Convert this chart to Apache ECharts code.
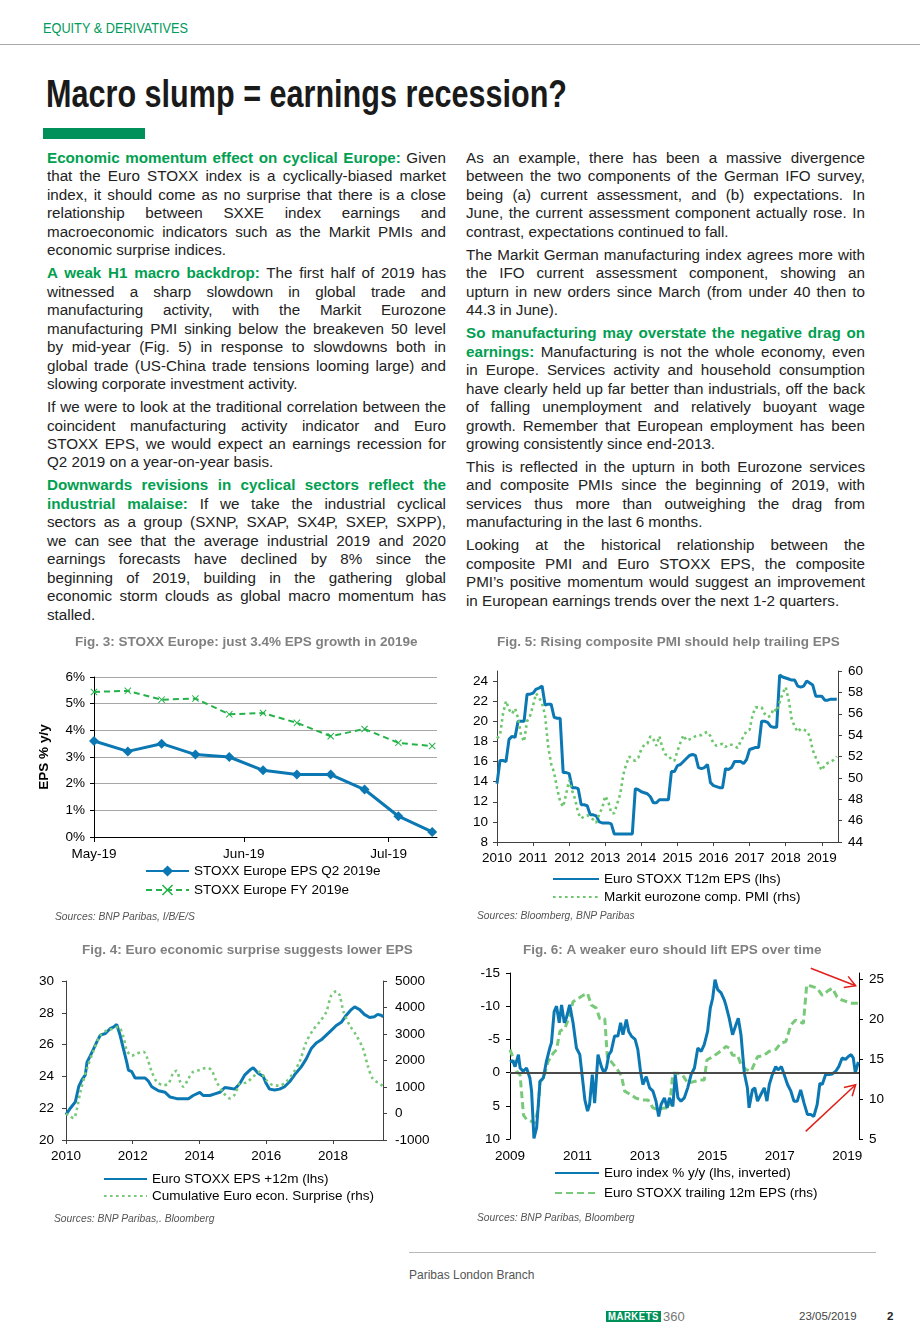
<!DOCTYPE html>
<html><head><meta charset="utf-8">
<script src="https://cdn.jsdelivr.net/npm/echarts@6/dist/echarts.min.js"></script>
<style>
html,body{margin:0;padding:0;background:#fff;}
body{width:920px;height:1329px;position:relative;overflow:hidden;font-family:'Liberation Sans',Arial,Helvetica,sans-serif;}
.abs{position:absolute;}
#hdr{left:43px;top:19.6px;color:#009a5a;font-size:15px;line-height:15px;white-space:nowrap;transform-origin:0 0;}
#hline{left:0;top:44px;width:920px;height:1px;background:#a8a8a8;}
#title{left:46px;top:74.8px;font-size:38px;line-height:38px;font-weight:bold;color:#1a1a1a;white-space:nowrap;transform-origin:0 0;}
#gbar{left:43px;top:128px;width:102px;height:11px;background:#00915a;}
.col{position:absolute;top:149px;width:399px;font-size:15.2px;line-height:18.45px;color:#222;}
.p{margin-bottom:4.6px;}
.l{white-space:nowrap;}
.g{color:#00a050;font-weight:bold;}
.src{position:absolute;font-size:10.3px;line-height:11px;font-style:italic;color:#555;white-space:nowrap;}
.chart{position:absolute;height:300px;}
#fline{left:409px;top:1252px;width:467px;height:1px;background:#b8b8b8;}
.ft{position:absolute;white-space:nowrap;color:#444;}
</style></head>
<body>
<div id="hdr" class="abs">EQUITY &amp; DERIVATIVES</div>
<div id="hline" class="abs"></div>
<div id="title" class="abs">Macro slump = earnings recession?</div>
<div id="gbar" class="abs"></div>

<div class="col" style="left:47px">
<div class="p">
<div class="l"><span class="g">Economic momentum effect on cyclical Europe:</span> Given</div>
<div class="l">that the Euro STOXX index is a cyclically-biased market</div>
<div class="l">index, it should come as no surprise that there is a close</div>
<div class="l">relationship between SXXE index earnings and</div>
<div class="l">macroeconomic indicators such as the Markit PMIs and</div>
<div class="l last">economic surprise indices.</div>
</div>
<div class="p">
<div class="l"><span class="g">A weak H1 macro backdrop:</span> The first half of 2019 has</div>
<div class="l">witnessed a sharp slowdown in global trade and</div>
<div class="l">manufacturing activity, with the Markit Eurozone</div>
<div class="l">manufacturing PMI sinking below the breakeven 50 level</div>
<div class="l">by mid-year (Fig. 5) in response to slowdowns both in</div>
<div class="l">global trade (US-China trade tensions looming large) and</div>
<div class="l last">slowing corporate investment activity.</div>
</div>
<div class="p">
<div class="l">If we were to look at the traditional correlation between the</div>
<div class="l">coincident manufacturing activity indicator and Euro</div>
<div class="l">STOXX EPS, we would expect an earnings recession for</div>
<div class="l last">Q2 2019 on a year-on-year basis.</div>
</div>
<div class="p">
<div class="l"><span class="g">Downwards revisions in cyclical sectors reflect the</span></div>
<div class="l"><span class="g">industrial malaise:</span> If we take the industrial cyclical</div>
<div class="l">sectors as a group (SXNP, SXAP, SX4P, SXEP, SXPP),</div>
<div class="l">we can see that the average industrial 2019 and 2020</div>
<div class="l">earnings forecasts have declined by 8% since the</div>
<div class="l">beginning of 2019, building in the gathering global</div>
<div class="l">economic storm clouds as global macro momentum has</div>
<div class="l last">stalled.</div>
</div>
</div>

<div class="col" style="left:466px">
<div class="p">
<div class="l">As an example, there has been a massive divergence</div>
<div class="l">between the two components of the German IFO survey,</div>
<div class="l">being (a) current assessment, and (b) expectations. In</div>
<div class="l">June, the current assessment component actually rose. In</div>
<div class="l last">contrast, expectations continued to fall.</div>
</div>
<div class="p">
<div class="l">The Markit German manufacturing index agrees more with</div>
<div class="l">the IFO current assessment component, showing an</div>
<div class="l">upturn in new orders since March (from under 40 then to</div>
<div class="l last">44.3 in June).</div>
</div>
<div class="p">
<div class="l"><span class="g">So manufacturing may overstate the negative drag on</span></div>
<div class="l"><span class="g">earnings:</span> Manufacturing is not the whole economy, even</div>
<div class="l">in Europe. Services activity and household consumption</div>
<div class="l">have clearly held up far better than industrials, off the back</div>
<div class="l">of falling unemployment and relatively buoyant wage</div>
<div class="l">growth. Remember that European employment has been</div>
<div class="l last">growing consistently since end-2013.</div>
</div>
<div class="p">
<div class="l">This is reflected in the upturn in both Eurozone services</div>
<div class="l">and composite PMIs since the beginning of 2019, with</div>
<div class="l">services thus more than outweighing the drag from</div>
<div class="l last">manufacturing in the last 6 months.</div>
</div>
<div class="p">
<div class="l">Looking at the historical relationship between the</div>
<div class="l">composite PMI and Euro STOXX EPS, the composite</div>
<div class="l">PMI’s positive momentum would suggest an improvement</div>
<div class="l last">in European earnings trends over the next 1-2 quarters.</div>
</div>
</div>

<div id="c3" class="chart" style="left:30px;top:630px;width:430px;"></div>
<div id="c5" class="chart" style="left:465px;top:630px;width:440px;"></div>
<div id="c4" class="chart" style="left:20px;top:935px;width:440px;"></div>
<div id="c6" class="chart" style="left:465px;top:935px;width:440px;"></div>

<div class="src" style="left:55px;top:910.5px">Sources: BNP Paribas, I/B/E/S</div>
<div class="src" style="left:477px;top:909.5px">Sources: Bloomberg, BNP Paribas</div>
<div class="src" style="left:54px;top:1212.5px">Sources: BNP Paribas,. Bloomberg</div>
<div class="src" style="left:477px;top:1212px">Sources: BNP Paribas, Bloomberg</div>

<div id="fline" class="abs"></div>
<div class="ft" style="left:409px;top:1268.5px;font-size:12px;line-height:12px;color:#555">Paribas London Branch</div>
<div class="ft" style="left:606px;top:1311px;width:55px;height:11px;background:#00915a;overflow:hidden;font-size:10px;line-height:11px"><span id="mk" style="position:absolute;left:2px;top:0;color:#fff;font-weight:bold;font-size:10.5px;line-height:11px;letter-spacing:0.6px;transform-origin:0 0;">MARKETS</span></div>
<div class="ft" style="left:663px;top:1309.5px;font-size:13px;line-height:13px;color:#777">360</div>
<div class="ft" style="left:799px;top:1311px;font-size:11.5px;line-height:11.5px;color:#444">23/05/2019</div>
<div class="ft" style="left:887px;top:1311px;font-size:11.5px;line-height:11.5px;font-weight:bold;color:#222">2</div>

<script>
// ---------------- DATA ----------------
// Fig. 3 (weekly observations)
const fig3Dates = ['2019-05-01','2019-05-08','2019-05-15','2019-05-22','2019-05-29','2019-06-05','2019-06-12','2019-06-19','2019-06-26','2019-07-03','2019-07-10'];
const fig3Q2 = [3.60,3.21,3.50,3.09,3.00,2.50,2.34,2.34,1.78,0.78,0.19];
const fig3FY = [5.44,5.48,5.15,5.19,4.60,4.65,4.28,3.78,4.05,3.53,3.41];
const fig3TickDates = ['2019-05-01','2019-06-01','2019-07-01'];
const fig3TickLabels = ['May-19','Jun-19','Jul-19'];
const fig3Names = ['STOXX Europe EPS Q2 2019e','STOXX Europe FY 2019e'];

// Fig. 5 (monthly, Jan 2010 - Jun 2019)
const fig5Start = 2010;
const fig5Eps = [
 13.8,16.1,16.1,16.0,18.2,18.5,18.4,20.0,20.0,20.0,22.7,22.7,
 22.8,23.2,23.3,23.5,21.6,21.7,21.7,20.4,20.3,20.3,14.9,14.9,
 14.8,13.4,13.4,13.3,11.7,11.7,11.6,10.7,10.7,10.6,10.0,9.9,
 9.9,9.9,9.8,8.8,8.8,8.8,8.8,8.8,8.8,8.8,13.3,13.2,
 13.0,12.9,12.8,12.5,11.9,11.9,12.2,12.2,12.2,12.2,15.0,15.0,
 15.6,15.7,16.0,16.3,16.6,16.7,16.6,15.4,15.3,15.4,15.7,13.9,
 13.6,13.5,13.4,13.4,15.3,15.2,15.4,16.0,16.0,16.0,15.8,16.2,
 17.2,17.3,17.4,17.4,20.0,20.0,19.9,19.5,19.4,19.4,24.6,24.4,
 24.3,24.2,24.1,24.1,23.5,23.4,23.5,24.0,23.8,23.6,22.5,22.5,
 22.5,22.1,22.1,22.2,22.2,22.2];
const fig5Pmi = [
 53.7,54.0,56.0,57.2,56.4,56.0,56.5,55.6,54.0,53.4,55.3,55.8,
 56.8,57.9,57.5,57.0,55.8,53.0,51.3,50.5,49.0,47.8,47.3,48.5,
 49.8,48.8,48.0,46.7,46.2,46.4,46.5,46.3,46.1,45.8,46.6,47.2,
 48.3,47.8,46.7,46.7,47.6,48.5,50.3,51.3,52.0,51.7,51.6,51.9,
 52.7,53.1,53.2,53.9,53.6,53.0,53.9,52.8,52.2,52.1,51.7,51.6,
 52.5,53.3,54.0,53.5,53.6,53.7,53.9,54.0,54.0,54.2,54.3,53.9,
 53.2,53.0,53.1,53.2,52.9,53.1,53.1,53.0,52.8,53.4,53.9,54.4,
 54.5,55.9,56.6,56.6,56.6,56.0,55.7,55.8,56.5,56.2,57.1,57.9,
 58.5,57.3,55.5,54.8,54.3,54.6,54.5,54.4,53.9,52.6,51.9,51.3,
 50.7,51.2,51.4,51.5,51.7,52.0];
const fig5Names = ['Euro STOXX T12m EPS (lhs)','Markit eurozone comp. PMI (rhs)'];

// Fig. 4 ([decimal year, value])
const fig4Eps = [[2010.00,21.6],[2010.13,22.0],[2010.28,22.4],[2010.38,23.35],[2010.48,23.8],[2010.58,24.1],[2010.63,24.9],[2010.73,25.3],[2010.83,25.75],[2010.93,26.2],[2011.03,26.6],[2011.18,26.7],[2011.32,27.0],[2011.42,27.1],[2011.52,27.26],[2011.62,26.6],[2011.72,25.75],[2011.82,24.9],[2011.87,24.4],[2011.97,24.3],[2012.07,23.9],[2012.22,23.9],[2012.37,23.9],[2012.47,23.7],[2012.57,23.35],[2012.77,23.1],[2012.97,23.0],[2013.12,22.7],[2013.32,22.6],[2013.52,22.6],[2013.67,22.6],[2013.81,22.8],[2014.01,23.0],[2014.11,22.8],[2014.31,22.8],[2014.46,22.9],[2014.61,23.0],[2014.76,23.3],[2014.91,23.25],[2015.06,23.2],[2015.21,23.55],[2015.36,24.1],[2015.51,24.4],[2015.61,24.55],[2015.76,24.2],[2015.91,24.0],[2016.00,23.55],[2016.10,23.2],[2016.25,23.15],[2016.40,23.2],[2016.55,23.35],[2016.70,23.66],[2016.85,24.1],[2017.05,24.6],[2017.20,25.1],[2017.35,25.75],[2017.50,26.1],[2017.65,26.3],[2017.80,26.6],[2017.95,26.9],[2018.10,27.2],[2018.25,27.4],[2018.40,27.85],[2018.55,28.2],[2018.65,28.37],[2018.80,28.2],[2018.94,27.9],[2019.10,27.7],[2019.24,27.75],[2019.34,27.9],[2019.44,27.85],[2019.51,27.75]];
const fig4Surprise = [[2010.00,0],[2010.13,-120],[2010.23,-180],[2010.33,190],[2010.43,820],[2010.63,1700],[2010.83,2390],[2011.03,2950],[2011.23,3140],[2011.42,3200],[2011.57,3270],[2011.72,2890],[2011.82,2390],[2011.97,2180],[2012.12,2260],[2012.32,2330],[2012.42,2140],[2012.57,1570],[2012.72,1200],[2012.92,1070],[2013.07,1130],[2013.22,1550],[2013.32,1610],[2013.42,1200],[2013.52,1010],[2013.67,1320],[2013.81,1570],[2014.01,1640],[2014.21,1720],[2014.36,1640],[2014.51,1200],[2014.71,800],[2014.91,570],[2015.06,720],[2015.21,1130],[2015.41,1170],[2015.61,1390],[2015.81,1570],[2016.00,1260],[2016.20,1070],[2016.40,1050],[2016.60,1200],[2016.80,1510],[2017.00,1950],[2017.20,2700],[2017.40,3140],[2017.60,3460],[2017.80,3830],[2017.95,4460],[2018.10,4610],[2018.20,4460],[2018.32,3830],[2018.50,3330],[2018.70,2950],[2018.90,2450],[2019.04,1820],[2019.19,1320],[2019.39,1130],[2019.49,1050]];
const fig4Names = ['Euro STOXX EPS +12m (lhs)','Cumulative Euro econ. Surprise (rhs)'];

// Fig. 6 ([decimal year, value])
const fig6Euro = [[2009.00,-1.6],[2009.08,-1.8],[2009.15,-0.9],[2009.25,-2.7],[2009.30,-0.7],[2009.39,-0.2],[2009.49,-0.7],[2009.59,0.8],[2009.64,2.8],[2009.71,9.9],[2009.79,8.3],[2009.89,1.3],[2009.99,0.8],[2010.08,-1.7],[2010.18,-3.7],[2010.23,-4.5],[2010.31,-9.2],[2010.38,-10.0],[2010.46,-7.5],[2010.53,-10.2],[2010.61,-7.5],[2010.67,-8.2],[2010.77,-10.2],[2010.87,-7.5],[2010.97,-3.7],[2011.07,-2.7],[2011.17,1.8],[2011.22,4.1],[2011.30,5.8],[2011.36,4.8],[2011.44,0.3],[2011.51,4.6],[2011.61,-2.7],[2011.71,-0.9],[2011.79,0.1],[2011.86,-0.7],[2011.93,-2.7],[2012.00,-3.2],[2012.10,-5.5],[2012.20,-5.5],[2012.28,-7.5],[2012.35,-5.7],[2012.45,-8.0],[2012.52,-6.2],[2012.60,-5.5],[2012.71,-5.0],[2012.79,-3.5],[2012.87,-0.2],[2012.94,1.8],[2013.04,0.6],[2013.14,2.3],[2013.24,2.8],[2013.33,4.3],[2013.41,6.6],[2013.48,4.8],[2013.58,3.8],[2013.66,5.3],[2013.73,3.8],[2013.83,5.1],[2013.90,0.3],[2013.98,3.8],[2014.07,4.3],[2014.17,3.8],[2014.27,2.3],[2014.37,0.3],[2014.47,-0.7],[2014.57,-3.7],[2014.67,-3.2],[2014.76,-4.2],[2014.86,-6.2],[2014.94,-9.7],[2015.01,-11.2],[2015.08,-14.0],[2015.16,-12.5],[2015.26,-12.0],[2015.35,-11.0],[2015.40,-10.2],[2015.50,-8.2],[2015.60,-5.7],[2015.70,-7.2],[2015.77,-8.2],[2015.85,-5.7],[2015.95,0.1],[2016.04,2.3],[2016.09,5.3],[2016.19,2.6],[2016.26,2.3],[2016.34,4.3],[2016.44,3.3],[2016.54,2.3],[2016.62,4.3],[2016.69,1.8],[2016.78,0.3],[2016.88,-0.9],[2016.95,-0.4],[2017.05,-0.9],[2017.13,0.3],[2017.23,1.8],[2017.33,2.8],[2017.42,4.3],[2017.52,4.3],[2017.62,2.6],[2017.72,4.6],[2017.82,6.3],[2017.92,6.3],[2018.01,6.6],[2018.11,4.8],[2018.19,1.6],[2018.26,1.8],[2018.36,0.3],[2018.46,0.3],[2018.56,0.2],[2018.66,-0.2],[2018.75,-0.9],[2018.85,-2.2],[2018.95,-2.0],[2019.05,-2.5],[2019.12,-2.7],[2019.18,-2.2],[2019.24,0.0],[2019.33,-1.6]];
const fig6Eps = [[2009.00,16.2],[2009.10,15.1],[2009.20,13.5],[2009.30,13.0],[2009.40,8.0],[2009.50,7.4],[2009.64,7.2],[2009.74,7.0],[2009.84,8.9],[2009.89,12.2],[2009.99,12.6],[2010.13,14.7],[2010.28,15.75],[2010.38,16.2],[2010.48,18.5],[2010.63,18.9],[2010.77,20.5],[2010.87,22.2],[2011.02,22.6],[2011.17,23.0],[2011.30,23.25],[2011.41,21.8],[2011.56,21.4],[2011.66,20.1],[2011.81,20.1],[2011.89,15.1],[2012.00,14.7],[2012.15,13.9],[2012.30,13.0],[2012.40,11.0],[2012.60,10.5],[2012.74,10.1],[2012.94,9.9],[2013.09,9.9],[2013.24,8.9],[2013.38,8.7],[2013.58,8.9],[2013.73,8.9],[2013.83,13.25],[2013.98,13.25],[2014.12,13.0],[2014.27,12.0],[2014.47,12.2],[2014.62,12.4],[2014.76,12.4],[2014.84,14.9],[2015.01,15.3],[2015.16,15.75],[2015.31,16.2],[2015.40,16.6],[2015.50,16.4],[2015.60,15.5],[2015.75,15.5],[2015.85,14.3],[2016.00,13.7],[2016.15,13.5],[2016.34,15.3],[2016.54,15.5],[2016.69,16.0],[2016.88,16.2],[2017.03,17.0],[2017.18,17.2],[2017.33,19.3],[2017.47,19.9],[2017.57,19.7],[2017.70,19.5],[2017.80,24.3],[2017.97,24.1],[2018.11,23.9],[2018.26,23.0],[2018.41,23.5],[2018.56,23.9],[2018.70,22.8],[2018.85,22.4],[2019.00,22.2],[2019.15,22.0],[2019.33,22.0]];
const fig6Names = ['Euro index % y/y (lhs, inverted)','Euro STOXX trailing 12m EPS (rhs)'];
// annotation arrows (data coordinates: year, rhs value)
const fig6Arrows = [[[2017.92,26.4],[2019.25,24.2]],[[2017.77,5.95],[2019.25,11.8]]];

const titles = {
  f3:'Fig. 3: STOXX Europe: just 3.4% EPS growth in 2019e',
  f5:'Fig. 5: Rising composite PMI should help trailing EPS',
  f4:'Fig. 4: Euro economic surprise suggests lower EPS',
  f6:'Fig. 6: A weaker euro should lift EPS over time'
};

// ---------------- LAYOUT HELPERS ----------------
function fitWidth(el, target){
  el.style.display='inline-block';
  const w = el.getBoundingClientRect().width;
  el.style.transform = 'scaleX(' + (target/w) + ')';
}
fitWidth(document.getElementById('hdr'),145);
fitWidth(document.getElementById('title'),521);
fitWidth(document.getElementById('mk'),51);

document.querySelectorAll('.l').forEach(el=>{
  if (el.classList.contains('last')) return;
  el.style.display='inline-block';
  const w = el.getBoundingClientRect().width;
  el.style.display='block';
  const n = (el.textContent.trim().match(/ +/g)||[]).length;
  if (n) el.style.wordSpacing = ((399 - w)/n) + 'px';
});

// ---------------- CHARTS ----------------
const FONT = "'Liberation Sans', Arial, sans-serif";
const FS = 13.5;
const BLUE = '#0b78b3';
const titleOpt = (t,left,top)=>({text:t,left:left,top:top,padding:0,textStyle:{fontSize:FS,fontWeight:'bold',color:'#808080',fontFamily:FONT}});
const lab = (extra)=>Object.assign({color:'#000',fontSize:FS,fontFamily:FONT},extra||{});
const axLine = (c)=>({show:true,onZero:false,lineStyle:{color:c||'#404040',width:1}});
const legendOpt = (left,top,iw,gap,names,hideSym)=>{
  const o = {orient:'vertical',left:left,top:top,padding:0,itemWidth:iw,itemHeight:14,itemGap:gap,
    textStyle:{fontSize:FS,lineHeight:14,color:'#000',fontFamily:FONT},data:names};
  if (hideSym) o.itemStyle = {opacity:0};
  return o;
};
const gridOpt = (g)=>Object.assign({outerBoundsMode:'none',containLabel:false},g);

// Fig 3
(function(){
  const day = d => (Date.parse(d) - Date.parse(fig3Dates[0]))/86400000;
  const ticks = fig3TickDates.map(day);
  const labMap = {}; ticks.forEach((t,i)=>labMap[t]=fig3TickLabels[i]);
  const c = echarts.init(document.getElementById('c3'));
  const xMark = 'path://M1,0L5,4L9,0L10,1L6,5L10,9L9,10L5,6L1,10L0,9L4,5L0,1Z';
  c.setOption({
    animation:false,
    textStyle:{fontFamily:FONT},
    title:titleOpt(titles.f3,45,5),
    grid:gridOpt({left:64,right:23,top:47,height:160}),
    xAxis:{type:'value',min:0,max:71,axisLine:axLine('#000'),splitLine:{show:false},
      axisTick:{show:true,customValues:ticks,length:5,lineStyle:{color:'#000'}},
      axisLabel:lab({customValues:ticks,formatter:v=>labMap[v]||'',margin:10})},
    yAxis:{type:'value',min:0,max:6,interval:1,name:'EPS % y/y',nameLocation:'middle',nameGap:43,nameRotate:90,
      nameTextStyle:{fontWeight:'bold',fontSize:FS,color:'#000',fontFamily:FONT},
      axisLine:axLine('#000'),axisTick:{show:true,length:4,lineStyle:{color:'#000'}},
      axisLabel:lab({formatter:'{value}%',margin:9}),splitLine:{show:true,lineStyle:{color:'#a6a6a6',width:1}}},
    legend:legendOpt(115,234,43,5,fig3Names,false),
    series:[
      {name:fig3Names[0],type:'line',data:fig3Dates.map((d,i)=>[day(d),fig3Q2[i]]),
        symbol:'diamond',symbolSize:10,lineStyle:{color:BLUE,width:3},itemStyle:{color:BLUE}},
      {name:fig3Names[1],type:'line',data:fig3Dates.map((d,i)=>[day(d),fig3FY[i]]),
        symbol:xMark,symbolSize:7,lineStyle:{color:'#25b24b',width:2,type:[6,4]},itemStyle:{color:'#25b24b'}}
    ]
  });
})();

// Fig 5
(function(){
  const xs = fig5Eps.map((_,i)=>fig5Start + i/12);
  const c = echarts.init(document.getElementById('c5'));
  c.setOption({
    animation:false,
    textStyle:{fontFamily:FONT},
    title:titleOpt(titles.f5,32,5),
    grid:gridOpt({left:32,right:67,top:41,height:171}),
    xAxis:{type:'value',min:2010,max:2019.45,interval:1,axisLine:axLine(),splitLine:{show:false},
      axisTick:{show:true,length:4,lineStyle:{color:'#404040'}},
      axisLabel:lab({showMaxLabel:false,formatter:v=>String(v),margin:9})},
    yAxis:[
      {type:'value',min:8,max:25,interval:2,axisLine:axLine(),splitLine:{show:false},
       axisTick:{show:true,length:4,lineStyle:{color:'#404040'}},axisLabel:lab({showMaxLabel:false,margin:9})},
      {type:'value',min:44,max:60,interval:2,position:'right',axisLine:axLine(),splitLine:{show:false},
       axisTick:{show:true,length:4,lineStyle:{color:'#404040'}},axisLabel:lab({margin:10})}
    ],
    legend:legendOpt(87,242,46,4,fig5Names,true),
    series:[
      {name:fig5Names[0],type:'line',yAxisIndex:0,data:xs.map((x,i)=>[x,fig5Eps[i]]),showSymbol:false,symbol:'none',
        lineStyle:{color:BLUE,width:3},itemStyle:{color:BLUE}},
      {name:fig5Names[1],type:'line',yAxisIndex:1,data:xs.map((x,i)=>[x,fig5Pmi[i]]),showSymbol:false,symbol:'none',
        lineStyle:{color:'#6cc76c',width:2.6,type:[2.6,3.4]},itemStyle:{color:'#6cc76c'}}
    ]
  });
})();

// Fig 4
(function(){
  const c = echarts.init(document.getElementById('c4'));
  c.setOption({
    animation:false,
    textStyle:{fontFamily:FONT},
    title:titleOpt(titles.f4,62,8),
    grid:gridOpt({left:46,right:77,top:46,height:159}),
    xAxis:{type:'value',min:2010,max:2019.5,interval:2,axisLine:axLine(),splitLine:{show:false},
      axisTick:{show:true,length:4,lineStyle:{color:'#404040'}},
      axisLabel:lab({showMaxLabel:false,formatter:v=>String(v),margin:9})},
    yAxis:[
      {type:'value',min:20,max:30,interval:2,axisLine:axLine(),splitLine:{show:false},
       axisTick:{show:true,length:4,lineStyle:{color:'#404040'}},axisLabel:lab({margin:12})},
      {type:'value',min:-1000,max:5000,interval:1000,position:'right',axisLine:axLine(),splitLine:{show:false},
       axisTick:{show:true,length:4,lineStyle:{color:'#404040'}},axisLabel:lab({margin:12,formatter:v=>String(v)})}
    ],
    legend:legendOpt(83,237,43,3,fig4Names,true),
    series:[
      {name:fig4Names[0],type:'line',yAxisIndex:0,data:fig4Eps,showSymbol:false,symbol:'none',
        lineStyle:{color:BLUE,width:3},itemStyle:{color:BLUE}},
      {name:fig4Names[1],type:'line',yAxisIndex:1,data:fig4Surprise,showSymbol:false,symbol:'none',smooth:0.3,
        lineStyle:{color:'#79c879',width:2.6,type:[2.6,3.4]},itemStyle:{color:'#79c879'}}
    ]
  });
})();

// Fig 6
(function(){
  const c = echarts.init(document.getElementById('c6'));
  c.setOption({
    animation:false,
    textStyle:{fontFamily:FONT},
    title:titleOpt(titles.f6,58,8),
    grid:gridOpt({left:45,right:46,top:38,height:166}),
    xAxis:{type:'value',min:2009,max:2019.35,interval:2,axisLine:{show:false},splitLine:{show:false},
      axisTick:{show:false},axisLabel:lab({showMaxLabel:false,formatter:v=>String(v),margin:10})},
    yAxis:[
      {type:'value',min:-15,max:10,interval:5,inverse:true,axisLine:axLine('#000'),splitLine:{show:false},
       axisTick:{show:true,length:4,lineStyle:{color:'#000'}},axisLabel:lab({margin:10})},
      {type:'value',min:5,max:25.8,interval:5,position:'right',axisLine:axLine('#000'),splitLine:{show:false},
       axisTick:{show:true,length:4,lineStyle:{color:'#000'}},axisLabel:lab({showMaxLabel:false,margin:10})}
    ],
    legend:legendOpt(89,231,44,6,fig6Names,true),
    series:[
      {name:fig6Names[0],type:'line',yAxisIndex:0,data:fig6Euro,showSymbol:false,symbol:'none',
        lineStyle:{color:BLUE,width:3},itemStyle:{color:BLUE},z:3,
        markLine:{silent:true,symbol:'none',label:{show:false},lineStyle:{color:'#4a4a4a',width:2,type:'solid'},
          data:[{yAxis:0}]}},
      {name:fig6Names[1],type:'line',yAxisIndex:1,data:fig6Eps,showSymbol:false,symbol:'none',z:2,
        lineStyle:{color:'#78c97a',width:3,type:[7,4]},itemStyle:{color:'#78c97a'}}
    ]
  });
  // red annotation arrows, positioned through the chart's own scales
  const toPx = p => c.convertToPixel({xAxisIndex:0,yAxisIndex:1}, p);
  const els = [];
  fig6Arrows.forEach(a=>{
    const p0 = toPx(a[0]), p1 = toPx(a[1]);
    const ang = Math.atan2(p1[1]-p0[1], p1[0]-p0[0]);
    const L = 12, A = Math.PI/6;
    const h1 = [p1[0]-L*Math.cos(ang-A), p1[1]-L*Math.sin(ang-A)];
    const h2 = [p1[0]-L*Math.cos(ang+A), p1[1]-L*Math.sin(ang+A)];
    els.push({type:'line',silent:true,z:100,shape:{x1:p0[0],y1:p0[1],x2:p1[0],y2:p1[1]},style:{stroke:'#e0201b',lineWidth:1.5}});
    els.push({type:'polyline',silent:true,z:100,shape:{points:[h1,p1,h2]},style:{stroke:'#e0201b',lineWidth:1.5,fill:null}});
  });
  c.setOption({graphic:els});
})();
</script>
</body></html>
